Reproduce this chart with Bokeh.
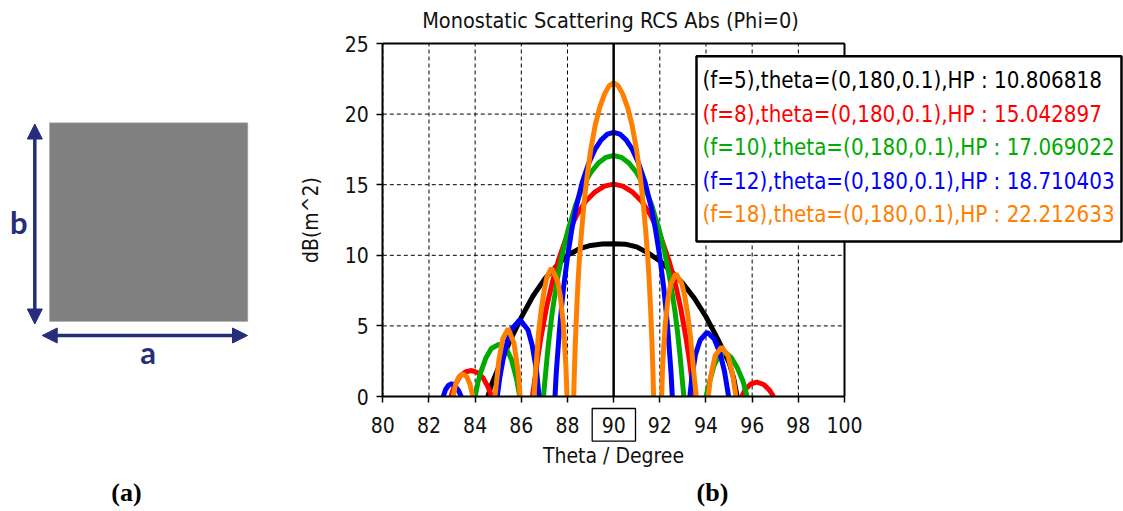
from bokeh.plotting import figure
from bokeh.models import Range1d, FixedTicker, Label, Arrow, NormalHead, LinearAxis
from bokeh.embed import file_html
from bokeh.resources import INLINE

NAN = float("nan")

# ---------------- data ----------------
theta_ticks = [80, 82, 84, 86, 88, 90, 92, 94, 96, 98, 100]
db_ticks = [0, 5, 10, 15, 20, 25]
marker_theta = 90

# f = 5
theta_f5 = [84.55, 84.7, 85.0, 85.5, 86.0, 86.5, 87.0, 87.5, 88.0, 88.5, 89.0, 89.5, 90.0,
            90.5, 91.0, 91.5, 92.0, 92.5, 93.0, 93.5, 94.0, 94.5, 95.0, 95.2, 95.35]
rcs_f5 = [0.0, 0.8, 2.0, 3.9, 5.6, 7.1, 8.3, 9.2, 10.0, 10.45, 10.7, 10.8, 10.81,
          10.79, 10.6, 10.15, 9.6, 8.85, 8.0, 6.95, 5.65, 4.1, 2.4, 1.3, 0.0]

# f = 8
theta_f8 = [82.95, 83.1, 83.35, 83.6, 83.85, 84.1, 84.35, 84.55, 84.72, NAN,
            86.48, 86.57, 86.7, 86.83, 87.09, 87.36, 87.62, 88.0, 88.4, 88.8, 89.2, 89.6, 90.0,
            90.4, 90.8, 91.2, 91.6, 92.0, 92.38, 92.64, 92.9, 93.15, 93.28, 93.4, 93.47, NAN,
            95.55, 95.7, 95.95, 96.2, 96.5, 96.75, 96.93]
rcs_f8 = [0.0, 0.75, 1.45, 1.75, 1.84, 1.7, 1.3, 0.7, 0.0, NAN,
          0.0, 1.0, 2.6, 4.0, 6.3, 8.2, 9.7, 11.5, 12.85, 13.85, 14.5, 14.9, 15.04,
          14.9, 14.5, 13.85, 12.85, 11.5, 9.7, 8.2, 6.3, 4.0, 2.6, 1.0, 0.0, NAN,
          0.0, 0.5, 0.9, 1.02, 0.85, 0.45, 0.0]

# f = 10
theta_f10 = [84.0, 84.12, 84.25, 84.47, 84.7, 85.04, 85.36, 85.58, 85.8, 85.93, NAN,
             86.96, 87.02, 87.13, 87.24, 87.35, 87.57, 87.79, 88.01, 88.34, 88.67, 89.01, 89.34, 89.67, 90.0,
             90.33, 90.66, 90.99, 91.33, 91.66, 91.99, 92.21, 92.43, 92.65, 92.76, 92.87, 92.98, 93.04, NAN,
             94.0, 94.15, 94.35, 94.6, 94.85, 95.1, 95.35, 95.6, 95.78]
rcs_f10 = [0.0, 1.0, 1.75, 2.75, 3.4, 3.7, 3.35, 2.6, 1.2, 0.0, NAN,
           0.0, 1.06, 3.0, 4.65, 6.1, 8.4, 10.2, 11.7, 13.5, 14.9, 15.86, 16.54, 16.94, 17.07,
           16.94, 16.54, 15.86, 14.9, 13.5, 11.7, 10.2, 8.4, 6.1, 4.65, 3.0, 1.06, 0.0, NAN,
           0.0, 1.0, 2.2, 3.0, 3.1, 2.75, 2.05, 1.1, 0.0]

# f = 12
theta_f12 = [82.62, 82.72, 82.85, 82.98, 83.12, 83.27, 83.4, NAN,
             84.96, 85.07, 85.21, 85.39, 85.57, 85.94, 86.29, 86.47, 86.66, 86.77, NAN,
             87.46, 87.51, 87.56, 87.65, 87.74, 87.83, 88.01, 88.19, 88.37, 88.64, 88.92, 89.19, 89.46, 89.73, 90.0,
             90.27, 90.54, 90.81, 91.08, 91.36, 91.63, 91.81, 91.99, 92.17, 92.26, 92.35, 92.44, 92.49, 92.54, NAN,
             93.3, 93.4, 93.55, 93.75, 94.05, 94.35, 94.6, 94.8, 94.98]
rcs_f12 = [0.0, 0.5, 0.8, 0.9, 0.78, 0.45, 0.0, NAN,
           0.0, 1.36, 2.63, 3.89, 4.75, 5.45, 4.71, 3.64, 1.83, 0.0, NAN,
           0.0, 1.56, 2.7, 4.66, 6.29, 7.7, 10.0, 11.86, 13.37, 15.17, 16.52, 17.5, 18.18, 18.58, 18.71,
           18.58, 18.18, 17.5, 16.52, 15.17, 13.37, 11.86, 10.0, 7.7, 6.29, 4.66, 2.7, 1.56, 0.0, NAN,
           0.0, 1.5, 3.0, 4.0, 4.55, 4.1, 3.1, 1.8, 0.0]

# f = 18
theta_f18 = [83.05, 83.15, 83.3, 83.47, 83.64, 83.78, 83.9, NAN,
             84.86, 85.03, 85.2, 85.43, 85.68, 85.86, 85.95, NAN,
             86.55, 86.63, 86.74, 86.86, 86.98, 87.1, 87.3, 87.57, 87.69, 87.81, 87.93, 87.98, NAN,
             88.27, 88.3, 88.34, 88.4, 88.46, 88.52, 88.6, 88.72, 88.85, 89.0, 89.2, 89.4, 89.6, 89.8, 90.0,
             90.2, 90.4, 90.6, 90.8, 91.0, 91.15, 91.28, 91.4, 91.48, 91.54, 91.6, 91.66, 91.7, 91.73, NAN,
             92.08, 92.12, 92.24, 92.36, 92.48, 92.7, 92.95, 93.08, 93.2, 93.33, 93.46, 93.58, NAN,
             94.1, 94.2, 94.4, 94.68, 94.95, 95.15, 95.3]
rcs_f18 = [0.0, 0.85, 1.4, 1.6, 1.4, 0.85, 0.0, NAN,
           0.0, 2.6, 4.1, 4.8, 3.8, 1.8, 0.0, NAN,
           0.0, 1.9, 4.4, 6.1, 7.4, 8.4, 9.1, 8.2, 7.1, 5.3, 2.2, 0.0, NAN,
           0.0, 1.9, 3.8, 6.2, 8.2, 9.8, 11.5, 13.7, 15.6, 17.4, 19.2, 20.5, 21.4, 22.0, 22.21,
           22.0, 21.4, 20.5, 19.2, 17.4, 15.6, 13.7, 11.5, 9.8, 8.2, 6.2, 3.8, 1.9, 0.0, NAN,
           0.0, 2.2, 5.2, 7.0, 8.0, 8.7, 8.0, 7.1, 5.9, 4.2, 1.9, 0.0, NAN,
           0.0, 1.4, 2.9, 3.5, 2.9, 1.6, 0.0]

series_labels = [
    "(f=5),theta=(0,180,0.1),HP : 10.806818",
    "(f=8),theta=(0,180,0.1),HP : 15.042897",
    "(f=10),theta=(0,180,0.1),HP : 17.069022",
    "(f=12),theta=(0,180,0.1),HP : 18.710403",
    "(f=18),theta=(0,180,0.1),HP : 22.212633",
]
series_colors = ["#000000", "#ff0000", "#00aa00", "#0000ff", "#ff8000"]
series_theta = [theta_f5, theta_f8, theta_f10, theta_f12, theta_f18]
series_rcs = [rcs_f5, rcs_f8, rcs_f10, rcs_f12, rcs_f18]

title_text = "Monostatic Scattering RCS Abs (Phi=0)"
x_label = "Theta / Degree"
y_label = "dB(m^2)"

FONT = "DejaVu Sans Condensed"
NAVY = "#262d7a"
INK = "#111111"

# ---------------- canvas / scale set-up ----------------
W, H = 1123, 511
X_LO, X_HI = 382.3, 844.0      # pixel columns of theta 80 and 100
Y_LO, Y_HI = 396.0, 43.0       # pixel rows of 0 dB and 25 dB
t0, t1 = theta_ticks[0], theta_ticks[-1]
d0, d1 = db_ticks[0], db_ticks[-1]
SX = (X_HI - X_LO) / (t1 - t0)
SY = (Y_LO - Y_HI) / (d1 - d0)


def dx(px):
    return t0 + (px - X_LO) / SX


def dy(py):
    return d0 + (Y_LO - py) / SY


p = figure(width=W, height=H, x_range=Range1d(dx(0), dx(W)), y_range=Range1d(dy(H), dy(0)),
           output_backend="svg", toolbar_location=None, min_border=0,
           x_axis_type=None, y_axis_type=None)
p.outline_line_color = None

# axes (the library's own), crossing at (80, 0)
xax = LinearAxis(ticker=FixedTicker(ticks=theta_ticks), fixed_location=d0, bounds=(t0, t1),
                 axis_label=x_label)
yax = LinearAxis(ticker=FixedTicker(ticks=db_ticks), fixed_location=t0, bounds=(d0, d1),
                 axis_label=y_label)
p.add_layout(xax, "below")
p.add_layout(yax, "left")
for ax in (xax, yax):
    ax.axis_line_width = 2
    ax.axis_line_color = "black"
    ax.major_tick_out = 6
    ax.major_tick_in = 0
    ax.major_tick_line_width = 1.5
    ax.minor_tick_out = 0
    ax.minor_tick_in = 0
    ax.major_label_text_font = FONT
    ax.major_label_text_font_size = "21px"
    ax.major_label_text_color = INK
    ax.axis_label_text_font = FONT
    ax.axis_label_text_font_size = "21px"
    ax.axis_label_text_font_style = "normal"
    ax.axis_label_text_color = INK
xax.major_label_standoff = 14
xax.axis_label_standoff = 8
yax.major_label_standoff = 8
yax.axis_label_standoff = 18

# dashed grid inside the plot area
n_t, n_d = len(theta_ticks), len(db_ticks)
p.segment(x0=theta_ticks, y0=[d0] * n_t, x1=theta_ticks, y1=[d1] * n_t,
          line_color="black", line_width=1, line_dash="4 3")
p.segment(x0=[t0] * n_d, y0=db_ticks, x1=[t1] * n_d, y1=db_ticks,
          line_color="black", line_width=1, line_dash="4 3")

# the five curves
for th, db, c in zip(series_theta, series_rcs, series_colors):
    p.line(th, db, line_color=c, line_width=5)

# marker line at 90 and the frame (top + right)
p.segment(x0=[marker_theta], y0=[d0], x1=[marker_theta], y1=[d1], line_color="black", line_width=2.5)
p.segment(x0=[t0, t1], y0=[d1, d0], x1=[t1, t1], y1=[d1, d1], line_color="black", line_width=2)

# title
p.add_layout(Label(x=dx(610), y=dy(20), text=title_text, text_font=FONT, text_font_size="21.5px",
                   text_color=INK, text_align="center", text_baseline="middle"))

# box round the 90 tick label
p.quad(left=[dx(591.7)], right=[dx(635)], top=[dy(408)], bottom=[dy(440.7)],
       fill_color=None, line_color="black", line_width=1.3)

# legend box with coloured texts
p.quad(left=[dx(696)], right=[dx(1121)], top=[dy(55.7)], bottom=[dy(241)],
       fill_color="white", line_color="black", line_width=2.5)
for i, (lab, c) in enumerate(zip(series_labels, series_colors)):
    p.add_layout(Label(x=dx(702), y=dy(79.5 + 33.6 * i), text=lab, text_font=FONT, text_font_size="22.2px",
                       text_color=c, text_baseline="middle"))

# ---------------- panel (a): the plate ----------------
p.quad(left=[dx(49)], right=[dx(247.3)], top=[dy(122.3)], bottom=[dy(321)],
       fill_color="#808080", line_color="#a8a8a8", line_width=0.5)
for xs, ys, xe, ye in [(34.3, 123.5, 34.3, 323.5), (41.7, 335, 247, 335)]:
    p.add_layout(Arrow(x_start=dx(xs), y_start=dy(ys), x_end=dx(xe), y_end=dy(ye),
                       line_color=NAVY, line_width=3.5,
                       start=NormalHead(size=15, fill_color=NAVY, line_color=NAVY),
                       end=NormalHead(size=15, fill_color=NAVY, line_color=NAVY)))
p.add_layout(Label(x=dx(18.3), y=dy(221.8), text="b", text_font="Lato", text_font_style="bold",
                   text_font_size="31px", text_color=NAVY, text_align="center", text_baseline="middle"))
p.add_layout(Label(x=dx(147.7), y=dy(351.8), text="a", text_font="Lato", text_font_style="bold",
                   text_font_size="31px", text_color=NAVY, text_align="center", text_baseline="middle"))

# sub-figure captions
for cx_, cap in [(126, "(a)"), (712, "(b)")]:
    p.add_layout(Label(x=dx(cx_), y=dy(491.5), text=cap, text_font="Liberation Serif", text_font_style="bold",
                       text_font_size="26px", text_color="black", text_align="center",
                       text_baseline="middle"))

open("out.html", "w").write(file_html(p, INLINE))
